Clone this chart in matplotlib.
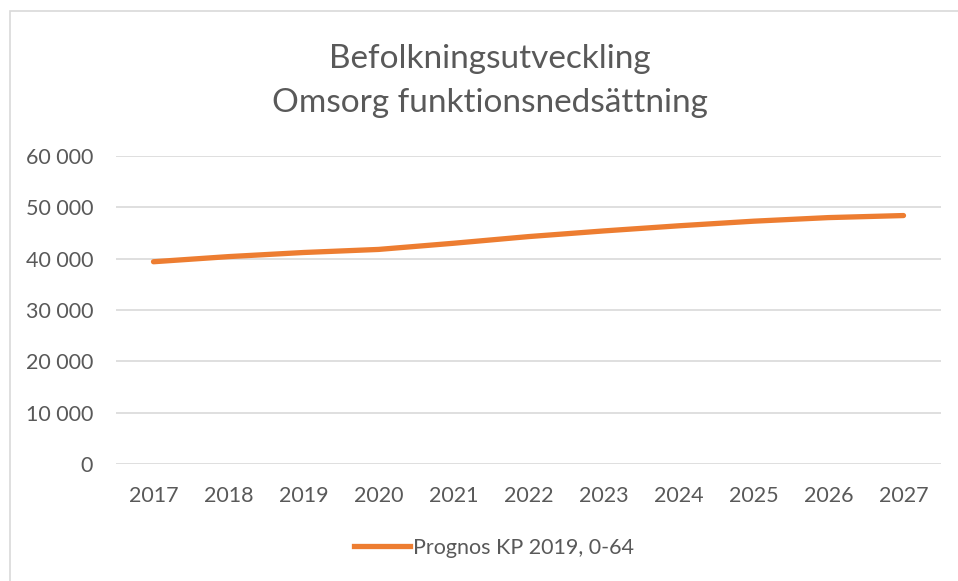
import matplotlib
matplotlib.use("Agg")
import matplotlib.pyplot as plt
from matplotlib.ticker import FuncFormatter, MultipleLocator
from matplotlib.lines import Line2D
from matplotlib.patches import Rectangle

years = ["2017", "2018", "2019", "2020", "2021", "2022", "2023", "2024", "2025", "2026", "2027"]
values = [39400, 40400, 41200, 41800, 43000, 44300, 45400, 46400, 47300, 48000, 48400]
series_name = "Prognos KP 2019, 0-64"
title = "Befolkningsutveckling\nOmsorg funktionsnedsättning"

plt.rcParams['font.family'] = ['Lato', 'DejaVu Sans']
W, H = 958, 581
fig = plt.figure(figsize=(W / 100, H / 100), dpi=100)
fig.patch.set_facecolor("white")
fig.patches.append(Rectangle((10 / W, -0.2), 1.2, 1.2 - 11 / H, transform=fig.transFigure,
                             fill=False, edgecolor="#d9d9d9", linewidth=1.2))

ax = fig.add_axes([116 / W, 1 - 464 / H, (941 - 116) / W, (464 - 156) / H])
x = list(range(len(years)))
ax.plot(x, values, color="#ed7d31", linewidth=3.8, solid_capstyle="round")
ax.set_xlim(-0.5, len(years) - 0.5)
ax.set_ylim(0, 60000)
ax.yaxis.set_major_locator(MultipleLocator(10000))
ax.yaxis.set_major_formatter(FuncFormatter(lambda v, p: f"{int(v):,}".replace(",", " ")))
ax.set_xticks(x)
ax.set_xticklabels(years)
ax.grid(axis="y", color="#d9d9d9", linewidth=1.2)
ax.set_axisbelow(True)
for s in ax.spines.values():
    s.set_visible(False)
ax.tick_params(axis="both", length=0, labelsize=15.5, colors="#595959")
ax.tick_params(axis="y", pad=16.5)
ax.tick_params(axis="x", pad=16)

fig.text(490 / W, 1 - 81 / H, title, ha="center", va="center", fontsize=24,
         color="#595959", linespacing=1.62)

handle = Line2D([0], [0], color="#ed7d31", linewidth=3.8)
fig.legend([handle], [series_name], loc="center", bbox_to_anchor=(494 / W, 1 - 548 / H),
           frameon=False, fontsize=15.5, labelcolor="#595959", handlelength=2.6,
           handletextpad=0.1)

fig.savefig("out.png", dpi=100)
